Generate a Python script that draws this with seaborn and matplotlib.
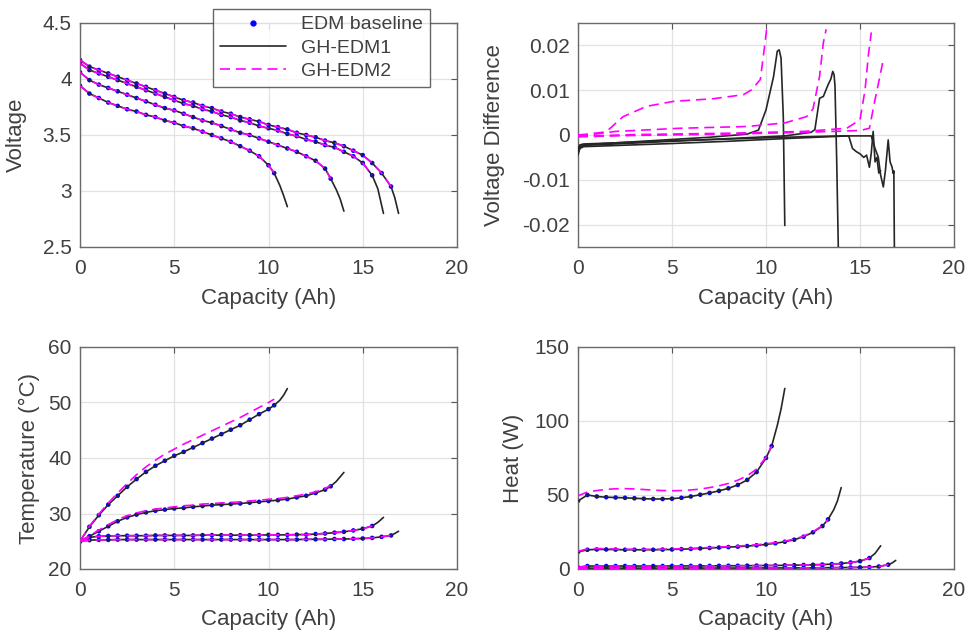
"""Four-panel discharge comparison: EDM baseline vs GH-EDM1 / GH-EDM2."""
import matplotlib
matplotlib.use("Agg")
import matplotlib.pyplot as plt
from matplotlib.lines import Line2D
from matplotlib.ticker import FuncFormatter
import seaborn as sns

# ---- capacity grids (Ah) for the four discharge rates ----
CAP_A = [0, 0.5, 1, 1.5, 2, 2.5, 3, 3.5, 4, 4.5, 5, 5.5, 6, 6.5, 7, 7.5, 8, 8.5,
         9, 9.5, 10, 10.3, 10.6, 10.8, 11.0]
CAP_B = [0, 0.5, 1, 1.5, 2, 2.5, 3, 3.5, 4, 4.5, 5, 5.5, 6, 6.5, 7, 7.5, 8, 8.5,
         9, 9.5, 10, 10.5, 11, 11.5, 12, 12.5, 13, 13.3, 13.6, 13.8, 14.0]
CAP_C = [0, 0.5, 1, 1.5, 2, 2.5, 3, 3.5, 4, 4.5, 5, 5.5, 6, 6.5, 7, 7.5, 8, 8.5,
         9, 9.5, 10, 10.5, 11, 11.5, 12, 12.5, 13, 13.5, 14, 14.5, 15, 15.5,
         15.8, 16.1]
CAP_D = [0, 0.5, 1, 1.5, 2, 2.5, 3, 3.5, 4, 4.5, 5, 5.5, 6, 6.5, 7, 7.5, 8, 8.5,
         9, 9.5, 10, 10.5, 11, 11.5, 12, 12.5, 13, 13.5, 14, 14.5, 15, 15.5,
         16, 16.5, 16.7, 16.9]
# number of baseline samples (dots) per curve
N_DOTS = [22, 28, 32, 34]

# ---- voltage (V) ----
V_A = [3.94, 3.87, 3.83, 3.79, 3.76, 3.73, 3.71, 3.68, 3.66, 3.63, 3.61, 3.58,
       3.56, 3.53, 3.50, 3.47, 3.44, 3.40, 3.36, 3.31, 3.23, 3.16, 3.05, 2.96, 2.86]
V_B = [4.06, 3.99, 3.95, 3.92, 3.89, 3.86, 3.83, 3.80, 3.77, 3.74, 3.72, 3.69,
       3.66, 3.63, 3.61, 3.58, 3.55, 3.52, 3.50, 3.47, 3.44, 3.41, 3.38, 3.35,
       3.31, 3.27, 3.20, 3.11, 3.01, 2.93, 2.82]
V_C = [4.14, 4.08, 4.05, 4.02, 3.99, 3.96, 3.93, 3.90, 3.87, 3.84, 3.81, 3.78,
       3.76, 3.73, 3.71, 3.68, 3.66, 3.63, 3.61, 3.58, 3.56, 3.54, 3.51, 3.49,
       3.46, 3.44, 3.41, 3.39, 3.35, 3.31, 3.25, 3.14, 3.02, 2.80]
V_D = [4.17, 4.11, 4.08, 4.05, 4.02, 3.99, 3.96, 3.93, 3.90, 3.87, 3.84, 3.81,
       3.79, 3.76, 3.74, 3.71, 3.69, 3.66, 3.64, 3.62, 3.59, 3.57, 3.55, 3.52,
       3.50, 3.48, 3.45, 3.43, 3.40, 3.36, 3.32, 3.25, 3.16, 3.04, 2.94, 2.80]

# ---- temperature (degC) ----
T_A = [25.0, 27.6, 29.7, 31.6, 33.2, 34.8, 36.2, 37.5, 38.6, 39.5, 40.4, 41.1,
       41.9, 42.7, 43.5, 44.3, 45.1, 45.9, 46.9, 47.9, 48.8, 49.5, 50.4, 51.3, 52.5]
T_B = [25.0, 25.9, 26.8, 27.7, 28.6, 29.3, 29.8, 30.2, 30.5, 30.7, 30.9, 31.0,
       31.2, 31.35, 31.5, 31.6, 31.7, 31.8, 31.95, 32.1, 32.25, 32.4, 32.6, 32.9,
       33.2, 33.7, 34.3, 34.9, 35.8, 36.6, 37.4]
T_C = [25.0, 25.7, 25.9, 25.95, 26.0, 26.0, 26.0, 26.0, 26.05, 26.05, 26.05,
       26.05, 26.05, 26.1, 26.1, 26.1, 26.1, 26.1, 26.1, 26.1, 26.15, 26.15,
       26.15, 26.2, 26.2, 26.3, 26.4, 26.55, 26.7, 26.95, 27.25, 27.75, 28.4, 29.3]
T_D = [25.0, 25.2, 25.25, 25.25, 25.3, 25.3, 25.3, 25.3, 25.3, 25.3, 25.3, 25.3,
       25.3, 25.3, 25.3, 25.3, 25.3, 25.3, 25.3, 25.3, 25.3, 25.3, 25.3, 25.3,
       25.35, 25.35, 25.35, 25.4, 25.4, 25.45, 25.5, 25.6, 25.8, 26.05, 26.4, 26.8]
T2_A = [25.0, 27.7, 29.9, 31.9, 33.7, 35.4, 37.0, 38.4, 39.6, 40.7, 41.6, 42.5,
        43.3, 44.1, 44.9, 45.7, 46.5, 47.3, 48.2, 49.1, 50.0, 50.6]
T2_B = [25.0, 26.0, 27.0, 28.0, 28.9, 29.6, 30.1, 30.5, 30.8, 31.0, 31.2, 31.4,
        31.5, 31.7, 31.8, 31.9, 32.0, 32.1, 32.25, 32.4, 32.55, 32.7, 32.9, 33.2,
        33.5, 33.9, 34.5, 35.1]

# ---- heat (W) ----
H_A = [46.0, 50.0, 49.0, 48.5, 48.3, 48.1, 47.8, 47.5, 47.3, 47.3, 47.5, 48.1,
       49.0, 50.2, 51.4, 52.8, 54.5, 56.8, 60.2, 65.5, 75.0, 83.0, 97.0, 108.0, 122.0]
H_B = [11.5, 13.0, 13.2, 13.2, 13.1, 13.0, 13.0, 13.0, 13.0, 13.1, 13.2, 13.4,
       13.6, 13.9, 14.2, 14.5, 14.8, 15.1, 15.5, 16.0, 16.6, 17.4, 18.4, 19.8,
       21.8, 24.8, 29.0, 33.5, 40.0, 46.0, 55.0]
H_C = [1.2, 2.0, 2.0, 2.0, 2.0, 2.0, 2.0, 2.0, 2.0, 2.0, 2.05, 2.05, 2.1, 2.1,
       2.1, 2.15, 2.2, 2.2, 2.25, 2.3, 2.35, 2.4, 2.5, 2.6, 2.7, 2.85, 3.0, 3.3,
       3.7, 4.4, 5.3, 7.4, 10.5, 15.7]
H_D = [0.3, 0.6, 0.6, 0.6, 0.6, 0.6, 0.6, 0.6, 0.6, 0.6, 0.6, 0.6, 0.6, 0.6,
       0.65, 0.65, 0.65, 0.65, 0.7, 0.7, 0.7, 0.7, 0.75, 0.75, 0.8, 0.8, 0.85,
       0.9, 0.95, 1.0, 1.1, 1.3, 1.7, 2.9, 4.0, 5.8]
H2_A = [49.5, 52.0, 53.0, 53.8, 54.2, 54.3, 54.1, 53.7, 53.3, 53.0, 52.9, 53.0,
        53.4, 54.0, 55.0, 56.2, 57.8, 60.0, 63.0, 67.5, 75.5, 83.0]
H2_B = [12.0, 13.6, 13.8, 13.7, 13.5, 13.4, 13.3, 13.3, 13.3, 13.4, 13.5, 13.7,
        13.9, 14.2, 14.5, 14.8, 15.1, 15.5, 15.9, 16.4, 17.0, 17.8, 18.8, 20.2,
        22.2, 25.2, 29.3, 33.5]

# ---- voltage difference vs baseline (V) ----
VD1_A_CAP = [0, 0.1, 0.3, 1, 3, 5, 7, 9, 9.6, 10.0, 10.4, 10.6, 10.7, 10.8, 10.92, 11.0]
VD1_A = [-0.0045, -0.0028, -0.0022, -0.0020, -0.0015, -0.0010, -0.0005, 0.0002,
         0.0011, 0.0056, 0.0130, 0.0187, 0.0190, 0.0172, 0.0041, -0.0202]
VD1_B_CAP = [0, 0.1, 0.3, 1, 3, 5, 7, 9, 11, 12.4, 12.6, 12.85, 13.05, 13.3, 13.45,
             13.55, 13.62, 13.67, 13.76, 13.85]
VD1_B = [-0.0040, -0.0025, -0.0023, -0.0022, -0.0018, -0.0014, -0.0010, -0.0006,
         -0.0002, 0.0006, 0.0012, 0.0082, 0.0086, 0.0112, 0.0125, 0.0142, 0.0135,
         0.0109, -0.0056, -0.0260]
VD1_C_CAP = [0, 0.1, 0.3, 1, 3, 5, 8, 11, 14.4, 14.6, 14.8, 15.0, 15.2, 15.35, 15.5,
             15.6, 15.7, 15.8, 15.9, 16.0, 16.1]
VD1_C = [-0.0040, -0.0030, -0.0026, -0.0025, -0.0022, -0.0019, -0.0014, -0.0008,
         -0.0002, -0.0030, -0.0037, -0.0042, -0.0050, -0.0045, -0.0072, -0.0040,
         0.0008, -0.0060, -0.0050, -0.0085, -0.0080]
VD1_D_CAP = [0, 0.1, 0.3, 1, 3, 5, 8, 11, 14, 15.6, 15.8, 15.97, 16.1, 16.24, 16.35,
             16.5, 16.6, 16.7, 16.77, 16.8, 16.83]
VD1_D = [-0.0030, -0.0022, -0.0020, -0.0019, -0.0016, -0.0013, -0.0009, -0.0005,
         -0.0002, -0.0002, -0.0030, -0.0049, -0.0090, -0.0116, -0.0080, -0.0011,
         -0.0060, -0.0071, -0.0086, -0.0080, -0.0260]
VD2_A_CAP = [0, 0.5, 1.5, 2.4, 3.65, 5.07, 7.2, 8.8, 9.24, 9.7, 9.95, 10.1]
VD2_A = [0.0, 0.0002, 0.0007, 0.0041, 0.0064, 0.0075, 0.0081, 0.0090, 0.0101,
         0.0124, 0.0206, 0.0260]
VD2_B_CAP = [0, 2, 5.4, 9.0, 11.0, 12.16, 12.5, 12.85, 13.05, 13.2]
VD2_B = [-0.0003, 0.0008, 0.0015, 0.0019, 0.0027, 0.0041, 0.0058, 0.0131, 0.0206, 0.0236]
VD2_C_CAP = [0, 3, 8, 12, 14.3, 15.0, 15.27, 15.44, 15.6]
VD2_C = [-0.0003, 0.0001, 0.0004, 0.0008, 0.0015, 0.0034, 0.0101, 0.0176, 0.0229]
VD2_D_CAP = [0, 3, 8, 12, 15.0, 15.5, 15.8, 16.06, 16.24]
VD2_D = [-0.0004, -0.0001, 0.0002, 0.0006, 0.0010, 0.0015, 0.0079, 0.0131, 0.0169]

TEXT = "#404040"
BLUE = "#0000ff"
MAGENTA = "#ff00ff"
BLACK = "#262626"
DASH = (0, (6, 3.5))


def style_axis(ax, ylim, yticks, ylabel, ylabel_x, xlabel_y):
    ax.set_xlim(0, 20)
    ax.set_ylim(*ylim)
    ax.set_xticks([0, 5, 10, 15, 20])
    ax.set_yticks(yticks)
    ax.yaxis.set_major_formatter(FuncFormatter(lambda v, _: f"{v:g}"))
    ax.set_xlabel("Capacity (Ah)", fontsize=16, color=TEXT)
    ax.set_ylabel(ylabel, fontsize=16, color=TEXT)
    ax.xaxis.set_label_coords(0.5, xlabel_y)
    ax.yaxis.set_label_coords(ylabel_x, 0.5)
    ax.tick_params(direction="in", top=True, right=True, length=4, width=0.8,
                   labelsize=15, colors="#555555", labelcolor=TEXT)
    ax.tick_params(axis="x", pad=9)
    ax.tick_params(axis="y", pad=6)
    ax.grid(True, color="#e2e2e2", linewidth=0.9)
    ax.set_axisbelow(True)
    for sp in ax.spines.values():
        sp.set_color("#6a6a6a")
        sp.set_linewidth(1.0)


def draw_panel(ax, caps, base_vals, edm2_vals):
    """Dots for the baseline, solid black for GH-EDM1, dashed magenta for GH-EDM2."""
    for cap, vals, vals2, n in zip(caps, base_vals, edm2_vals, N_DOTS):
        sns.scatterplot(x=cap[:n], y=vals[:n], ax=ax, color=BLUE, s=11,
                        edgecolor="none", zorder=2, legend=False)
        sns.lineplot(x=cap, y=vals, ax=ax, color=BLACK, linewidth=1.2,
                     estimator=None, sort=False, zorder=3, legend=False)
        sns.lineplot(x=cap[:len(vals2)], y=vals2, ax=ax, color=MAGENTA,
                     linewidth=1.2, linestyle=DASH, estimator=None, sort=False,
                     zorder=4, legend=False)


sns.set_theme(style="white")
plt.rcParams["font.family"] = ["Liberation Sans", "DejaVu Sans"]

fig = plt.figure(figsize=(9.68, 6.37), dpi=100)
W, H = 968, 637


def add_axes(left, top, right, bottom):
    return fig.add_axes([left / W, 1 - bottom / H, (right - left) / W, (bottom - top) / H])


ax_v = add_axes(80, 23, 457, 247)
ax_d = add_axes(578, 23, 954, 247)
ax_t = add_axes(80, 347, 457, 569)
ax_h = add_axes(578, 347, 954, 569)

caps = [CAP_A, CAP_B, CAP_C, CAP_D]

# Voltage
draw_panel(ax_v, caps, [V_A, V_B, V_C, V_D],
           [V_A[:N_DOTS[0]], V_B[:N_DOTS[1]], V_C[:N_DOTS[2]], V_D[:N_DOTS[3]]])
style_axis(ax_v, (2.5, 4.5), [2.5, 3, 3.5, 4, 4.5], "Voltage", -0.14, -0.185)

# Voltage difference
for cap, vals in [(VD1_A_CAP, VD1_A), (VD1_B_CAP, VD1_B), (VD1_C_CAP, VD1_C), (VD1_D_CAP, VD1_D)]:
    sns.lineplot(x=cap, y=vals, ax=ax_d, color=BLACK, linewidth=1.2,
                 estimator=None, sort=False, zorder=3, legend=False)
for cap, vals in [(VD2_A_CAP, VD2_A), (VD2_B_CAP, VD2_B), (VD2_C_CAP, VD2_C), (VD2_D_CAP, VD2_D)]:
    sns.lineplot(x=cap, y=vals, ax=ax_d, color=MAGENTA, linewidth=1.2, linestyle=DASH,
                 estimator=None, sort=False, zorder=4, legend=False)
style_axis(ax_d, (-0.025, 0.025), [-0.02, -0.01, 0, 0.01, 0.02],
           "Voltage Difference", -0.194, -0.185)

# Temperature
draw_panel(ax_t, caps, [T_A, T_B, T_C, T_D],
           [T2_A, T2_B, T_C[:N_DOTS[2]], T_D[:N_DOTS[3]]])
style_axis(ax_t, (20, 60), [20, 30, 40, 50, 60], "Temperature (\u00b0C)", -0.106, -0.18)

# Heat
draw_panel(ax_h, caps, [H_A, H_B, H_C, H_D],
           [H2_A, H2_B, H_C[:N_DOTS[2]], H_D[:N_DOTS[3]]])
style_axis(ax_h, (0, 150), [0, 50, 100, 150], "Heat (W)", -0.144, -0.18)

handles = [
    Line2D([], [], marker="o", linestyle="none", color=BLUE, markersize=3.5),
    Line2D([], [], color=BLACK, linewidth=1.2),
    Line2D([], [], color=MAGENTA, linewidth=1.2, linestyle=DASH),
]
leg = fig.legend(handles, ["EDM baseline", "GH-EDM1", "GH-EDM2"],
                 loc="upper left", bbox_to_anchor=(213 / W, 1 - 9 / H),
                 fontsize=14, frameon=True, fancybox=False, handlelength=3.4,
                 handletextpad=0.8, borderpad=0.35, labelspacing=0.3,
                 borderaxespad=0)
leg.get_frame().set_edgecolor("#404040")
leg.get_frame().set_linewidth(1.0)
for t in leg.get_texts():
    t.set_color(TEXT)

fig.savefig("out.png", dpi=100)
plt.close(fig)
